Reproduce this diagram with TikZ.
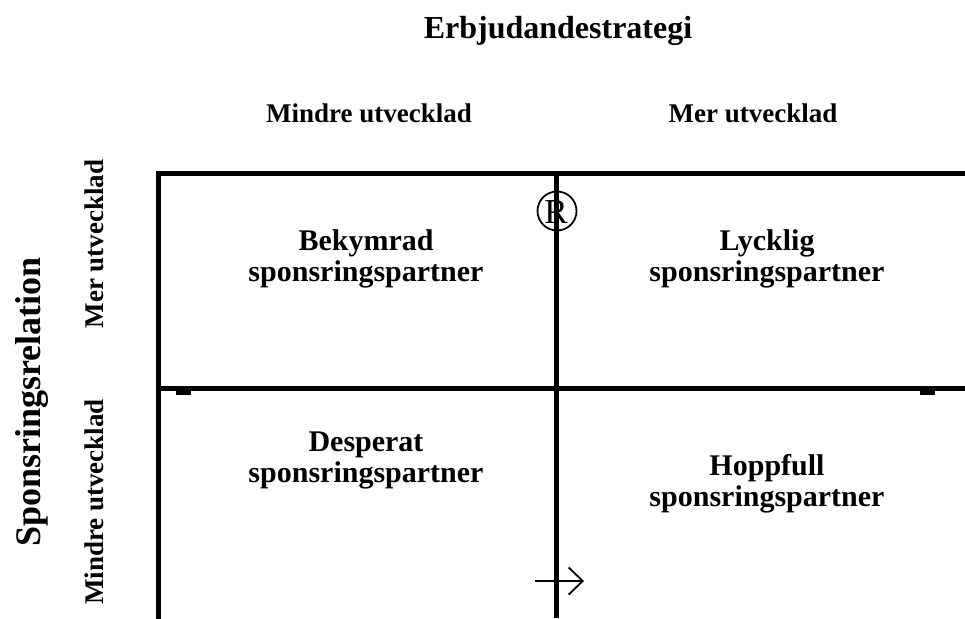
\documentclass[tikz,border=0pt]{standalone}
\usepackage{fontspec}
\setmainfont{Liberation Serif}
\usetikzlibrary{arrows.meta}
\begin{document}
\begin{tikzpicture}[x=1pt,y=-1pt,
  grid/.style={line width=5pt,black},
  lbl/.style={font=\bfseries\fontsize{#1}{#1}\selectfont,inner sep=0pt,anchor=base}]
\useasboundingbox (0,0) rectangle (965,618);
% titles
\node[lbl=32] (title) at (558,38) {Erbjudandestrategi};
\node[lbl=27] (cmin) at (369,122) {Mindre utvecklad};
\node[lbl=27] (cmer) at (753,122) {Mer utvecklad};
\node[lbl=36,rotate=90] (rel) at (40,402) {Sponsringsrelation};
\node[lbl=27,rotate=90] (rmer) at (103,244) {Mer utvecklad};
\node[lbl=27,rotate=90] (rmin) at (103,502) {Mindre utvecklad};
% quadrant labels
\node[lbl=30] (q1a) at (366,250) {Bekymrad};
\node[lbl=30] (q1b) at (366,281) {sponsringspartner};
\node[lbl=30] (q2a) at (767,250) {Lycklig};
\node[lbl=30] (q2b) at (767,281) {sponsringspartner};
\node[lbl=30] (q3a) at (366,451) {Desperat};
\node[lbl=30] (q3b) at (366,482) {sponsringspartner};
\node[lbl=30] (q4a) at (767,475) {Hoppfull};
\node[lbl=30] (q4b) at (767,506) {sponsringspartner};
% grid
\coordinate (tl) at (158,173);
\coordinate (tr) at (965,173);
\coordinate (bl) at (158,618);
\coordinate (ml) at (158,388);
\coordinate (mr) at (965,388);
\coordinate (ct) at (556,173);
\coordinate (cb) at (556,618);
\draw[grid,line cap=rect] (bl) -- (tl) -- (tr);
\draw[grid] (ml) -- (mr);
\draw[grid] (ct) -- (cb);
\fill (176,388) rectangle (191,395);
\fill (920,388) rectangle (935,395);
% registered mark
\node[circle,draw,line width=1.8pt,minimum size=39pt,inner sep=0pt] (reg) at (557,211) {};
\node[font=\fontsize{35}{35}\selectfont,inner sep=0pt] at ([xshift=-1pt,yshift=-1pt]reg.center) {R};
% arrow
\coordinate (a1) at (535,581);
\coordinate (a2) at (584,581);
\draw[line width=1.8pt,-{Straight Barb[length=14pt,width=27pt,line width=1.8pt]}] (a1) -- (a2);
\end{tikzpicture}
\end{document}
